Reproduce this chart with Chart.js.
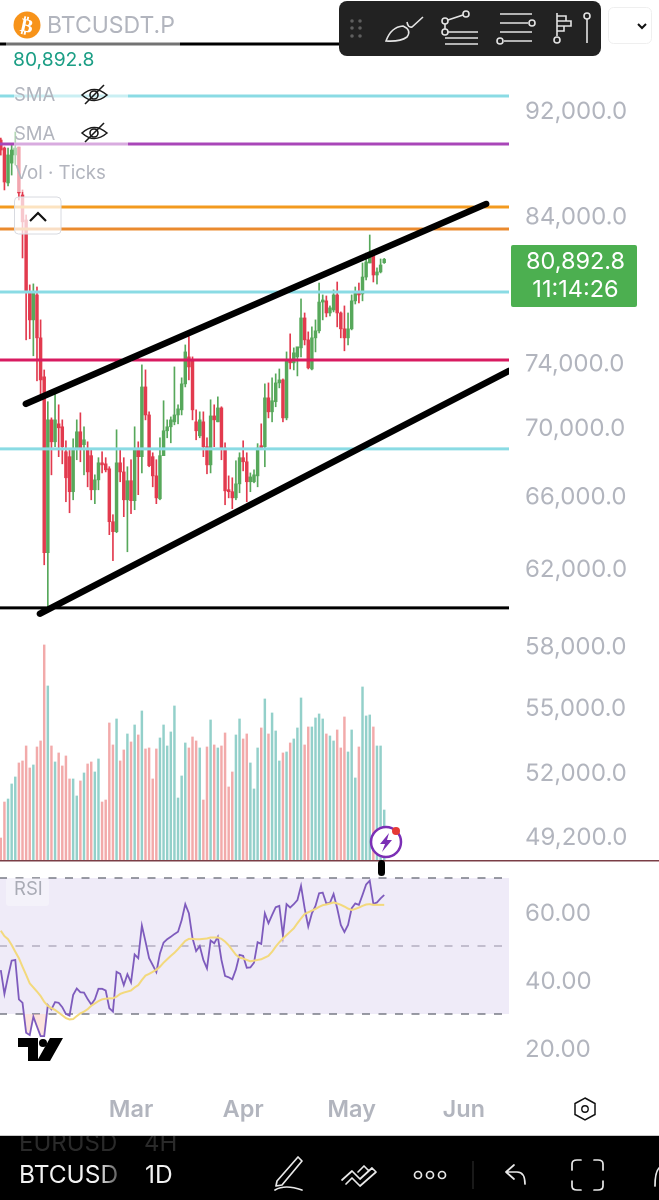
<!DOCTYPE html>
<html>
<head>
<meta charset="utf-8">
<script src="https://cdn.jsdelivr.net/npm/chart.js@4"></script>
<style>
  html, body { margin: 0; padding: 0; background: #fff; width: 659px; height: 1200px; overflow: hidden; }
  canvas { position: absolute; left: -1px; }
  #overlay { position: absolute; left: 0; top: 0; }
  text { font-family: Inter, Roboto, sans-serif; }
</style>
</head>
<body>
<canvas id="prijs" style="top:0;width:660px;height:860px"></canvas>
<canvas id="rsi" style="top:860px;width:660px;height:276px"></canvas>
<svg id="overlay" width="659" height="1200" viewBox="0 0 659 1200">
  <defs>
    <linearGradient id="fade" x1="0" x2="1" y1="0" y2="0">
      <stop offset="0.8" stop-color="#f2f2f2"/><stop offset="1" stop-color="#555"/>
    </linearGradient>
  </defs>

  <!-- legenda -->
  <rect x="6" y="10" width="174" height="36" fill="#fff" fill-opacity="0.45"/>
  <rect x="14" y="82" width="114" height="30" fill="#fff" fill-opacity="0.55"/>
  <rect x="14" y="122" width="114" height="30" fill="#fff" fill-opacity="0.55"/>
  <rect x="14" y="152" width="92" height="40" fill="#fff" fill-opacity="0.55"/>
  <circle cx="27" cy="25" r="13.5" fill="#f7931a"/>
  <text x="27" y="32" font-size="19" font-weight="700" fill="#fff" text-anchor="middle" transform="rotate(12 27 25)" style="font-family:'DejaVu Sans'">₿</text>
  <text x="47" y="33" font-size="23" fill="#b2b5be">BTCUSDT.P</text>
  <text x="13" y="66" font-size="19.3" fill="#1b9e85">80,892.8</text>
  <text x="14" y="101" font-size="18.5" fill="#b2b5be">SMA</text>
  <text x="14" y="140" font-size="18.5" fill="#b2b5be">SMA</text>
  <text x="15" y="179" font-size="18.7" fill="#b2b5be">Vol · Ticks</text>
  <g fill="none" stroke="#1a1a1a" stroke-width="1.6">
    <path d="M82 95 Q94 84 107 95 Q94 106 82 95 Z"/><circle cx="94" cy="95" r="4"/><path d="M85 104 L104 85"/>
    <path d="M82 133 Q94 122 107 133 Q94 144 82 133 Z"/><circle cx="94" cy="133" r="4"/><path d="M85 142 L104 123"/>
  </g>
  <rect x="14.5" y="197" width="46.5" height="37" rx="4" fill="#fff" fill-opacity="0.72" stroke="#d8dae0" stroke-width="1"/>
  <path d="M30 221 L38 213 L46 221" fill="none" stroke="#111" stroke-width="2.2"/>

  <!-- tekengereedschap -->
  <rect x="339" y="1" width="262" height="55" rx="8" fill="#222"/>
  <g fill="#5f5f5f">
    <circle cx="352" cy="21" r="1.8"/><circle cx="360" cy="21" r="1.8"/>
    <circle cx="352" cy="28" r="1.8"/><circle cx="360" cy="28" r="1.8"/>
    <circle cx="352" cy="36" r="1.8"/><circle cx="360" cy="36" r="1.8"/>
  </g>
  <g fill="none" stroke="#e4e4e4" stroke-width="1.6">
    <path d="M386 41 Q391 27 403 26 Q412 30 407 37 Q400 42 386 41 Z M407 22 Q408 28 412 27 L423 17"/>
    <circle cx="445" cy="21" r="3"/><circle cx="466" cy="14" r="3"/><circle cx="445" cy="32" r="3"/>
    <path d="M448 20 L463 15 M445 24 V29 M448 32 H478 M445 38 H478 M445 44 H478"/>
    <path d="M500 14 H532 M500 23 H528 M500 32 H532 M504 41 H532"/><circle cx="532" cy="23" r="3"/><circle cx="500" cy="41" r="3"/>
    <path d="M557 13 V36 M557 16 H566 V21 H557 M557 21 H571 V26 H557 M557 26 H564 V31 H557"/><circle cx="557" cy="40" r="3"/>
    <circle cx="587" cy="16" r="3"/><path d="M587 19 V43"/>
  </g>
  <rect x="608.5" y="7.5" width="43" height="36" rx="5" fill="#fff" stroke="#efefef"/>
  <path d="M638 24 L642 28 L646 24" fill="none" stroke="#111" stroke-width="2"/>

  <!-- prijslabel -->
  <rect x="511" y="245" width="126" height="62" rx="2" fill="#4caf50"/>
  <text x="575.5" y="269" font-size="23.5" fill="#fff" text-anchor="middle">80,892.8</text>
  <text x="575.5" y="297" font-size="23.5" fill="#fff" text-anchor="middle">11:14:26</text>

  <!-- paneelscheiding -->
  <rect x="0" y="860" width="659" height="1.5" fill="#7a3e46"/>
  <circle cx="386" cy="842" r="15" fill="#fff" stroke="#7b2fb5" stroke-width="2.5"/>
  <path d="M389 833 L380 844 L385 844 L382 852 L392 840 L387 840 Z" fill="#7b2fb5"/>
  <circle cx="396" cy="831" r="4" fill="#e53935"/>
  <rect x="378" y="860" width="7" height="16" rx="3.5" fill="#000"/>

  <!-- RSI label en logo -->
  <rect x="6" y="878" width="43" height="28" rx="3" fill="#fff" fill-opacity="0.35"/>
  <text x="14" y="895" font-size="18.5" fill="#a9abb5">RSI</text>
  <path d="M18 1038 H38 V1061 H28 V1047 H18 Z M50 1038 H63 L50 1061 H37 Z" fill="#000"/>
  <circle cx="43" cy="1043" r="4" fill="#000"/>

  <path d="M585 1098 L595 1103.5 V1114.5 L585 1120 L575 1114.5 V1103.5 Z" fill="none" stroke="#111" stroke-width="1.5"/>
  <circle cx="585" cy="1109" r="3.2" fill="none" stroke="#111" stroke-width="1.4"/>

  <!-- onderbalk -->
  <rect x="0" y="1135" width="659" height="1.5" fill="#c9c9c9"/>
  <rect x="0" y="1136" width="659" height="64" fill="#000"/>
  <svg x="0" y="1136" width="659" height="64">
    <text x="19" y="15" font-size="24" fill="#2a2a2a">EURUSD</text>
    <text x="144" y="15" font-size="24" fill="#2a2a2a">4H</text>
  </svg>
  <text x="19" y="1183" font-size="24.5" fill="url(#fade)">BTCUSD</text>
  <text x="145" y="1183" font-size="24.5" fill="#f2f2f2">1D</text>
  <g fill="none" stroke="#e8e8e8" stroke-width="1.7" stroke-linecap="round" stroke-linejoin="round">
    <path d="M277 1181 L298 1157 L302 1161 L282 1185 L276 1186 Z M275 1190 Q285 1184 302 1190"/>
    <path d="M342 1180 L352 1171 L360 1179 L372 1168 M346 1184 L352 1178 L360 1186 L376 1172 L372 1168 M358 1172 L364 1166 L369 1171"/>
    <circle cx="418" cy="1175" r="3.5"/><circle cx="430" cy="1175" r="3.5"/><circle cx="442" cy="1175" r="3.5"/>
    <path d="M506 1172 L514 1165 M506 1172 L514 1179 M506 1172 H517 Q525 1172 525 1184"/>
    <path d="M572 1170 V1164 Q572 1160 577 1160 H581 M594 1160 H598 Q603 1160 603 1164 V1170 M603 1181 V1186 Q603 1190 598 1190 H594 M581 1190 H577 Q572 1190 572 1186 V1181"/>
    <path d="M655 1186 Q655 1172 659 1168"/>
  </g>
  <path d="M473 1161 V1189" stroke="#333" stroke-width="1"/>
</svg>

<script>
// dagkaarsen, af te lezen uit de grafiek
const opens = [89650,89030,86390,87880,88500,89110,85500,83680,78570,76770,78440,75590,73090,62810,70430,69110,70190,70010,68520,68230,
  66200,68760,69710,68940,68640,68290,66310,66880,67870,67810,67520,64510,63960,67870,67340,65740,66830,65690,68640,68230,
  72460,70730,68230,67110,65800,68290,69770,70010,70310,70730,71040,72650,74360,74170,70310,69470,70310,68820,67750,70670,
  70310,71160,68760,66250,66200,65850,66650,68170,67930,66770,66770,67110,68820,68820,71780,70920,71540,72710,72900,70550,
  74100,73980,74360,74940,76900,75460,73590,75590,76050,77960,78040,77230,77430,78440,77230,76180,75590,76180,78040,78640,
  78510,79660,80630,81120,79800,80010,80650];
const highs = [89800,89110,89030,89260,90270,89110,85870,84040,79120,79190,78980,76770,73530,71540,70550,71970,71350,70430,69170,68640,
  69290,70430,70860,70010,69110,68640,67170,68170,68520,68170,67640,64900,69830,68640,68170,67640,68050,70010,69110,73850,
  73530,70920,68460,68050,69350,71600,70430,70610,73720,71350,73030,75130,75660,74360,71040,70920,70920,69350,71660,71350,
  71840,71230,69050,67110,67000,67990,68460,69170,68460,67280,67460,69000,70190,72650,72710,73030,73280,73590,72960,74680,
  75850,74940,74940,78170,77230,75980,76310,76770,79250,78440,78370,77700,78780,79320,77300,77700,77230,78440,78980,79250,
  80630,81330,82600,81540,80290,80910,80950];
const lows = [88490,85870,86170,86980,87740,85130,80980,75460,75530,74430,72840,71970,62160,59960,67170,68820,68230,67810,65630,65010,
  65740,68050,67930,67170,66480,65740,65520,66310,67280,67340,63790,62380,63900,66770,64790,62860,64960,65180,66030,67280,
  70430,67640,66480,65520,65740,68290,69350,69050,70130,70190,70730,72460,72900,70430,69230,69350,68230,67230,67280,68820,
  70310,68050,65460,65850,65240,65740,66140,67400,65630,66200,66710,66480,68640,67640,70550,70310,71230,72400,70310,70430,
  73590,73530,73150,74360,75130,73590,73530,74680,75910,76770,76970,77030,77300,76310,75590,74750,75130,76110,77830,77900,
  78040,79460,80630,79320,79180,79940,80600];
const closes = [88880,86460,88500,88880,89030,85650,83540,78640,76770,78570,75590,72900,62810,70430,69110,70430,69950,68820,67000,66200,
  68640,69710,68760,69230,67340,66310,66880,67870,67750,67460,64510,63960,67870,67340,65740,66830,65690,68640,68230,72460,
  70730,67700,67110,65850,68290,69770,70010,70430,70730,71100,72650,74680,73720,71040,69770,70430,68820,67750,70670,70430,
  71160,68760,66250,66200,65850,66650,68170,67930,66770,67050,67170,68760,68760,71780,70920,71600,72710,72900,70550,74100,
  73980,74620,75010,76900,75460,73660,75590,76050,77960,78100,77230,77570,78440,77230,76180,75590,76180,78040,78510,78440,
  79660,80700,81120,79800,80010,80490,80890];
// volume in duizendtallen, geschat
const volumes = [22,58,61,76,83,97,99,114,92,95,113,119,215,174,114,98,107,94,104,81,
  81,64,79,87,96,98,88,101,58,60,137,115,141,99,110,126,118,135,125,149,
  111,112,81,111,122,135,114,128,154,62,84,117,112,123,119,112,60,113,140,115,
  112,114,127,73,88,125,141,121,126,97,71,112,132,161,126,147,129,99,107,108,
  117,121,132,162,115,133,133,142,146,141,126,124,119,130,112,143,108,130,82,113,
  173,144,145,133,114,114,50];
const rsiValues = [42.9,35.9,41,45.7,45.9,34.3,33.3,24.5,23.8,29.2,26.3,23.5,23.5,32.6,31.4,33.5,33.3,32,30,29.5,
  35.6,37.5,36.4,36.3,34.4,32.8,34.3,37.4,37.4,36.9,31.7,30.7,42.4,41.8,38.5,41.7,39.3,47.5,46.4,56,
  51.3,46.4,44.4,42.3,47.8,51,52,52.7,53.5,54.2,57.6,62.3,59.6,52.3,48.5,50,45.9,43.4,51.6,50.8,
  52.7,45.9,41.2,40.8,40.2,43.1,47.4,47.1,43.6,43.7,45.1,51.1,50.6,59.6,56.7,59.1,61.4,61.8,53,62.3,
  61.3,62.3,63.5,67.7,61.1,55.7,59.6,61.8,65.5,65.7,62.5,62.7,65.3,61.1,56.2,54.1,56.2,61.1,62.5,62.1,
  65,68.1,69.2,62.4,62.8,64,65];
const rsiAverage = [54.5,52.9,52,50.3,48.3,46.4,43.9,41.5,39,37.8,36.6,35.3,33.6,32.4,31.7,31.2,30.4,29.6,28.8,28.4,
  28.5,29.4,30.2,30.7,31.4,32.4,33.1,33.8,34.3,34.5,34.6,34.6,35.1,35.9,36.3,36.6,36.9,37.8,38.5,40,
  41.3,41.8,42.4,43,43.9,45.1,46.1,47.1,48,49.1,50.3,51.5,52.1,52.1,52,52,52.1,52.2,52.5,52.5,
  52.5,52.1,51.3,50.2,48.8,47.4,46.6,46.3,45.9,45.5,45.7,45.9,46.1,46.6,47.1,48.3,49.8,51.1,52.2,53.2,
  54.2,55.2,56.7,58.1,59.4,59.9,60.4,60.9,61.5,62,62.2,62.5,62.8,62.5,62.1,61.6,61,60.6,60.9,61.3,
  61.8,62.2,62.3,62.1,62.1,62.1,62.1];

const priceTicks = [92000,84000,74000,70000,66000,62000,58000,55000,52000,49200];
const rsiTicks = [60,40,20];
const monthTicks = [36,67,97,128];
const monthNames = ['Mar','Apr','May','Jun'];

const levels = [
  { price: 97390, color: '#000000' },
  { price: 93120, color: '#8adbe4' },
  { price: 89340, color: '#a946b8' },
  { price: 84620, color: '#f39a1f' },
  { price: 83030, color: '#ea8a2e' },
  { price: 78640, color: '#8adbe4' },
  { price: 74160, color: '#d81b60' },
  { price: 68690, color: '#8adbe4' },
  { price: 59890, color: '#000000' }
];
const channelTop = [{ x: 6.9, y: 71410 }, { x: 134.2, y: 84840 }];
const channelBottom = [{ x: 10.8, y: 59590 }, { x: 140.5, y: 73470 }];

const xMin = -0.5;
const xMax = 140.5;
const RED = '#e23a4e';
const GREEN = '#57a85b';
const fontTicks = { family: 'Inter, Roboto, sans-serif', size: 24 };
const up = opens.map((o, i) => closes[i] >= o);

// geen extra ruimte rond het plotvlak door de aslabels
function noPadding(s) {
  s.paddingTop = 0;
  s.paddingBottom = 0;
  s.paddingLeft = 0;
  s.paddingRight = 0;
}

function levelLine(l) {
  return {
    type: 'line',
    data: [{ x: xMin, y: l.price }, { x: xMax, y: l.price }],
    borderColor: l.color,
    borderWidth: 3,
    pointRadius: 0,
    order: 1,
    yAxisID: 'y'
  };
}

function trendLine(data) {
  return {
    type: 'line',
    data,
    borderColor: '#000',
    borderWidth: 6.5,
    borderCapStyle: 'round',
    pointRadius: 0,
    order: 0,
    yAxisID: 'y'
  };
}

new Chart(document.getElementById('prijs'), {
  data: {
    datasets: [
      ...levels.map(levelLine),
      trendLine(channelTop),
      trendLine(channelBottom),
      {
        type: 'bar',
        data: opens.map((o, i) => ({ x: i, y: [o, closes[i]] })),
        backgroundColor: up.map(u => u ? GREEN : RED),
        barThickness: 2.8,
        minBarLength: 2,
        grouped: false,
        order: 2,
        yAxisID: 'y'
      },
      {
        type: 'bar',
        data: lows.map((l, i) => ({ x: i, y: [l, highs[i]] })),
        backgroundColor: up.map(u => u ? GREEN : RED),
        barThickness: 1,
        grouped: false,
        order: 3,
        yAxisID: 'y'
      },
      {
        type: 'bar',
        data: volumes.map((v, i) => ({ x: i, y: v })),
        backgroundColor: up.map(u => u ? '#93d0ca' : '#f2aaaa'),
        barThickness: 1.8,
        grouped: false,
        order: 4,
        yAxisID: 'yVol'
      }
    ]
  },
  options: {
    responsive: false,
    animation: false,
    devicePixelRatio: 2,
    layout: { padding: 0, autoPadding: false },
    plugins: { legend: { display: false }, tooltip: { enabled: false } },
    scales: {
      x: { type: 'linear', min: xMin, max: xMax, offset: false, display: false },
      y: {
        type: 'logarithmic',
        position: 'right',
        min: 48190,
        max: 101150,
        grid: { display: false, drawTicks: false },
        border: { display: false },
        afterBuildTicks: s => { s.ticks = priceTicks.map(value => ({ value })); },
        afterFit: s => { s.width = 150; noPadding(s); },
        ticks: {
          autoSkip: false,
          padding: 16,
          labelOffset: 2,
          color: '#b2b5be',
          font: fontTicks,
          callback: v => v.toLocaleString('en-US', { minimumFractionDigits: 1 })
        }
      },
      yVol: { type: 'linear', min: 0, max: 860, display: false }
    }
  }
});

new Chart(document.getElementById('rsi'), {
  data: {
    datasets: [
      {
        type: 'line',
        data: rsiValues.map((v, i) => ({ x: i, y: v })),
        borderColor: '#7e5bbd',
        borderWidth: 1.8,
        pointRadius: 0,
        fill: { target: { value: 30 }, above: 'rgba(0,0,0,0)', below: 'rgba(250,200,190,0.5)' },
        order: 1
      },
      {
        type: 'line',
        data: rsiAverage.map((v, i) => ({ x: i, y: v })),
        borderColor: '#f3d97c',
        borderWidth: 2,
        pointRadius: 0,
        order: 0
      },
      {
        type: 'line',
        data: [{ x: xMin, y: 70 }, { x: xMax, y: 70 }],
        borderColor: '#787b86',
        borderWidth: 1.5,
        borderDash: [8, 8.5],
        pointRadius: 0,
        fill: { target: '+2', above: '#efebf8', below: '#efebf8' },
        order: 5
      },
      {
        type: 'line',
        data: [{ x: xMin, y: 50 }, { x: xMax, y: 50 }],
        borderColor: '#b3aec0',
        borderWidth: 1.5,
        borderDash: [8, 8.5],
        pointRadius: 0,
        order: 4
      },
      {
        type: 'line',
        data: [{ x: xMin, y: 30 }, { x: xMax, y: 30 }],
        borderColor: '#787b86',
        borderWidth: 1.5,
        borderDash: [8, 8.5],
        pointRadius: 0,
        order: 3
      }
    ]
  },
  options: {
    responsive: false,
    animation: false,
    devicePixelRatio: 2,
    layout: { padding: 0, autoPadding: false },
    plugins: { legend: { display: false }, tooltip: { enabled: false } },
    scales: {
      x: {
        type: 'linear',
        min: xMin,
        max: xMax,
        grid: { display: false, drawTicks: false },
        border: { display: false },
        afterBuildTicks: s => { s.ticks = monthTicks.map(value => ({ value })); },
        afterFit: s => { s.height = 40; noPadding(s); },
        ticks: {
          autoSkip: false,
          maxRotation: 0,
          padding: 0,
          color: '#b2b5be',
          font: { family: 'Inter, Roboto, sans-serif', size: 23.5, weight: '600' },
          callback: v => monthNames[monthTicks.indexOf(v)]
        }
      },
      y: {
        type: 'linear',
        position: 'right',
        min: 5.88,
        max: 75.29,
        grid: { display: false, drawTicks: false },
        border: { display: false },
        afterBuildTicks: s => { s.ticks = rsiTicks.map(value => ({ value })); },
        afterFit: s => { s.width = 150; noPadding(s); },
        ticks: {
          autoSkip: false,
          padding: 16,
          labelOffset: 2,
          color: '#b2b5be',
          font: fontTicks,
          callback: v => v.toFixed(2)
        }
      }
    }
  }
});
</script>
</body>
</html>
